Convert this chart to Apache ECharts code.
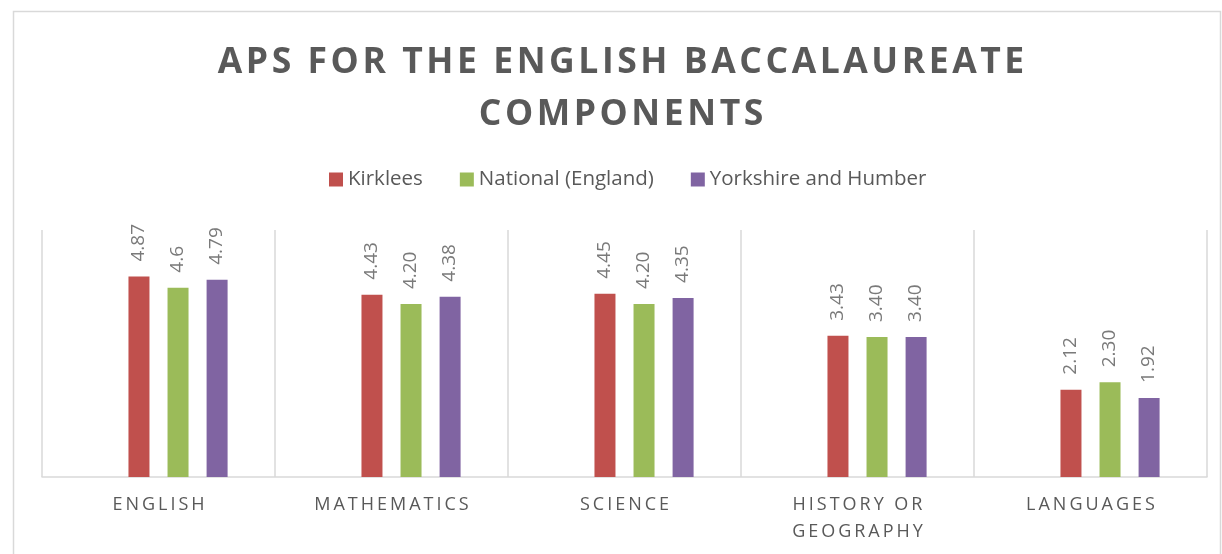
<!DOCTYPE html>
<html>
<head>
<meta charset="utf-8">
<script src="https://cdn.jsdelivr.net/npm/echarts@6/dist/echarts.min.js"></script>
<style>
html, body { margin: 0; padding: 0; background: #fff; }
#chart { width: 1222px; height: 554px; }
</style>
</head>
<body>
<div id="chart"></div>
<script>
var categories = ['ENGLISH', 'MATHEMATICS', 'SCIENCE', 'HISTORY OR\nGEOGRAPHY', 'LANGUAGES'];
var seriesNames = ['Kirklees', 'National (England)', 'Yorkshire and Humber'];
var kirklees = [4.87, 4.43, 4.45, 3.43, 2.12];
var national = [4.6, 4.20, 4.20, 3.40, 2.30];
var yorkshire = [4.79, 4.38, 4.35, 3.40, 1.92];
var kirkleesLabels = ['4.87', '4.43', '4.45', '3.43', '2.12'];
var nationalLabels = ['4.6', '4.20', '4.20', '3.40', '2.30'];
var yorkshireLabels = ['4.79', '4.38', '4.35', '3.40', '1.92'];
var colors = ['#c0504d', '#9bbb59', '#8064a2'];

// spread letters out, the original uses letter spacing
function spaced(s, sp) {
	return s.split('\n').map(function(line) {
		return line.split('').join(sp);
	}).join('\n');
}

var chart = echarts.init(document.getElementById('chart'));

function barSeries(name, data, labels, color) {
	return {
		name: name,
		type: 'bar',
		data: data,
		barWidth: 21,
		barGap: '86%',
		itemStyle: { color: color },
		label: {
			show: true,
			position: 'top',
			rotate: 90,
			align: 'left',
			verticalAlign: 'middle',
			distance: 15,
			color: '#7a7a7a',
			fontSize: 19,
			fontFamily: 'Open Sans',
			formatter: function(p) { return labels[p.dataIndex]; }
		}
	};
}

var option = {
	animation: false,
	backgroundColor: '#fff',
	title: {
		text: spaced('APS FOR THE ENGLISH BACCALAUREATE\nCOMPONENTS', '\u200a'),
		left: 616,
		textAlign: 'center',
		top: 32,
		textStyle: {
			color: '#595959',
			fontSize: 35.5,
			fontWeight: 'bold',
			fontFamily: 'Open Sans',
			lineHeight: 52
		}
	},
	legend: {
		data: seriesNames,
		top: 164,
		left: 324,
		icon: 'rect',
		itemWidth: 14,
		itemHeight: 14,
		itemGap: 37,
		textStyle: { color: '#595959', fontSize: 20.5, fontFamily: 'Open Sans' }
	},
	grid: { left: 42, right: 15, top: 230, bottom: 77 },
	xAxis: {
		type: 'category',
		data: categories,
		axisLine: { lineStyle: { color: '#d9d9d9', width: 1.5 } },
		axisTick: { show: false },
		splitLine: { show: true, lineStyle: { color: '#d9d9d9', width: 1.5 } },
		axisLabel: {
			color: '#595959',
			fontSize: 18,
			fontFamily: 'Open Sans',
			lineHeight: 27,
			margin: 14,
			interval: 0,
			formatter: function(v) { return spaced(v, '\u2009'); }
		}
	},
	yAxis: { type: 'value', min: 0, max: 6, show: false },
	series: [
		{ name: '', type: 'bar', data: ['-', '-', '-', '-', '-'], barWidth: 21, barGap: '86%' },
		barSeries(seriesNames[0], kirklees, kirkleesLabels, colors[0]),
		barSeries(seriesNames[1], national, nationalLabels, colors[1]),
		barSeries(seriesNames[2], yorkshire, yorkshireLabels, colors[2])
	],
	graphic: [{
		type: 'rect',
		shape: { x: 13.5, y: 11.5, width: 1207, height: 600 },
		style: { fill: 'none', stroke: '#d9d9d9', lineWidth: 1.5 },
		silent: true,
		z: -1
	}]
};
chart.setOption(option);
</script>
</body>
</html>
